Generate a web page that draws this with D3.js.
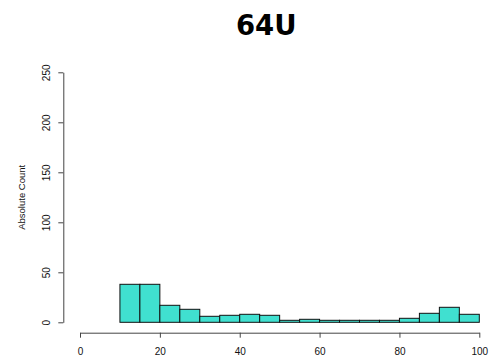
<!DOCTYPE html>
<html>
<head>
<meta charset="utf-8">
<script src="https://cdn.jsdelivr.net/npm/d3@7"></script>
<style>
  html, body { margin: 0; padding: 0; background: #fff; }
  svg { display: block; }
</style>
</head>
<body>
<script>
const title = "64U";
const yLabel = "Absolute Count";
const binStarts = [10,15,20,25,30,35,40,45,50,55,60,65,70,75,80,85,90,95];
const binWidth = 5;
const counts = [38,38,17,13,6,7,8,7,2,3,2,2,2,2,4,9,15,8];
const xTicks = [0,20,40,60,80,100];
const yTicks = [0,50,100,150,200,250];

const W = 492, H = 358;
const svg = d3.select("body").append("svg").attr("width", W).attr("height", H);

const x = d3.scaleLinear().domain([0,100]).range([80, 479.3]);
const y = d3.scaleLinear().domain([0,250]).range([322.3, 72.3]);

// bars
svg.append("g").selectAll("rect").data(binStarts).join("rect")
  .attr("x", (d) => x(d))
  .attr("width", (d) => x(d + binWidth) - x(d))
  .attr("y", (d, i) => y(counts[i]))
  .attr("height", (d, i) => y(0) - y(counts[i]))
  .attr("fill", "#40E0D0")
  .attr("stroke", "#111")
  .attr("stroke-width", 1);

// x axis
const xAxis = svg.append("g").attr("transform", "translate(0,332.7)")
  .call(d3.axisBottom(x).tickValues(xTicks).tickSize(5).tickPadding(10).tickSizeOuter(0));
xAxis.select(".domain").attr("stroke", "#444");
xAxis.selectAll(".tick line").attr("stroke", "#444");
xAxis.selectAll("text").attr("font-family", "Liberation Sans, Arial, sans-serif").attr("font-size", "10px").attr("fill", "#111");

// y axis
const yAxis = svg.append("g").attr("transform", "translate(63.3,0)")
  .call(d3.axisLeft(y).tickValues(yTicks).tickSize(5).tickSizeOuter(0));
yAxis.select(".domain").attr("stroke", "#444");
yAxis.selectAll(".tick line").attr("stroke", "#444");
yAxis.selectAll("text")
  .attr("font-family", "Liberation Sans, Arial, sans-serif").attr("font-size", "10px").attr("fill", "#111")
  .attr("x", null).attr("dy", null)
  .attr("text-anchor", "middle")
  .attr("transform", "translate(-12.5,0) rotate(-90)")
  .attr("dy", "-0.1em");

// y label
svg.append("text")
  .attr("transform", `translate(25,${(y(0)+y(250))/2}) rotate(-90)`)
  .attr("text-anchor", "middle")
  .attr("font-family", "Liberation Sans, Arial, sans-serif")
  .attr("font-size", "9.5px")
  .attr("fill", "#111")
  .text(yLabel);

// title
svg.append("text")
  .attr("x", 266.3).attr("y", 35)
  .attr("text-anchor", "middle")
  .attr("font-family", "DejaVu Sans, sans-serif")
  .attr("font-weight", "bold")
  .attr("font-size", "27.5px")
  .attr("fill", "#000")
  .text(title);
</script>
</body>
</html>
